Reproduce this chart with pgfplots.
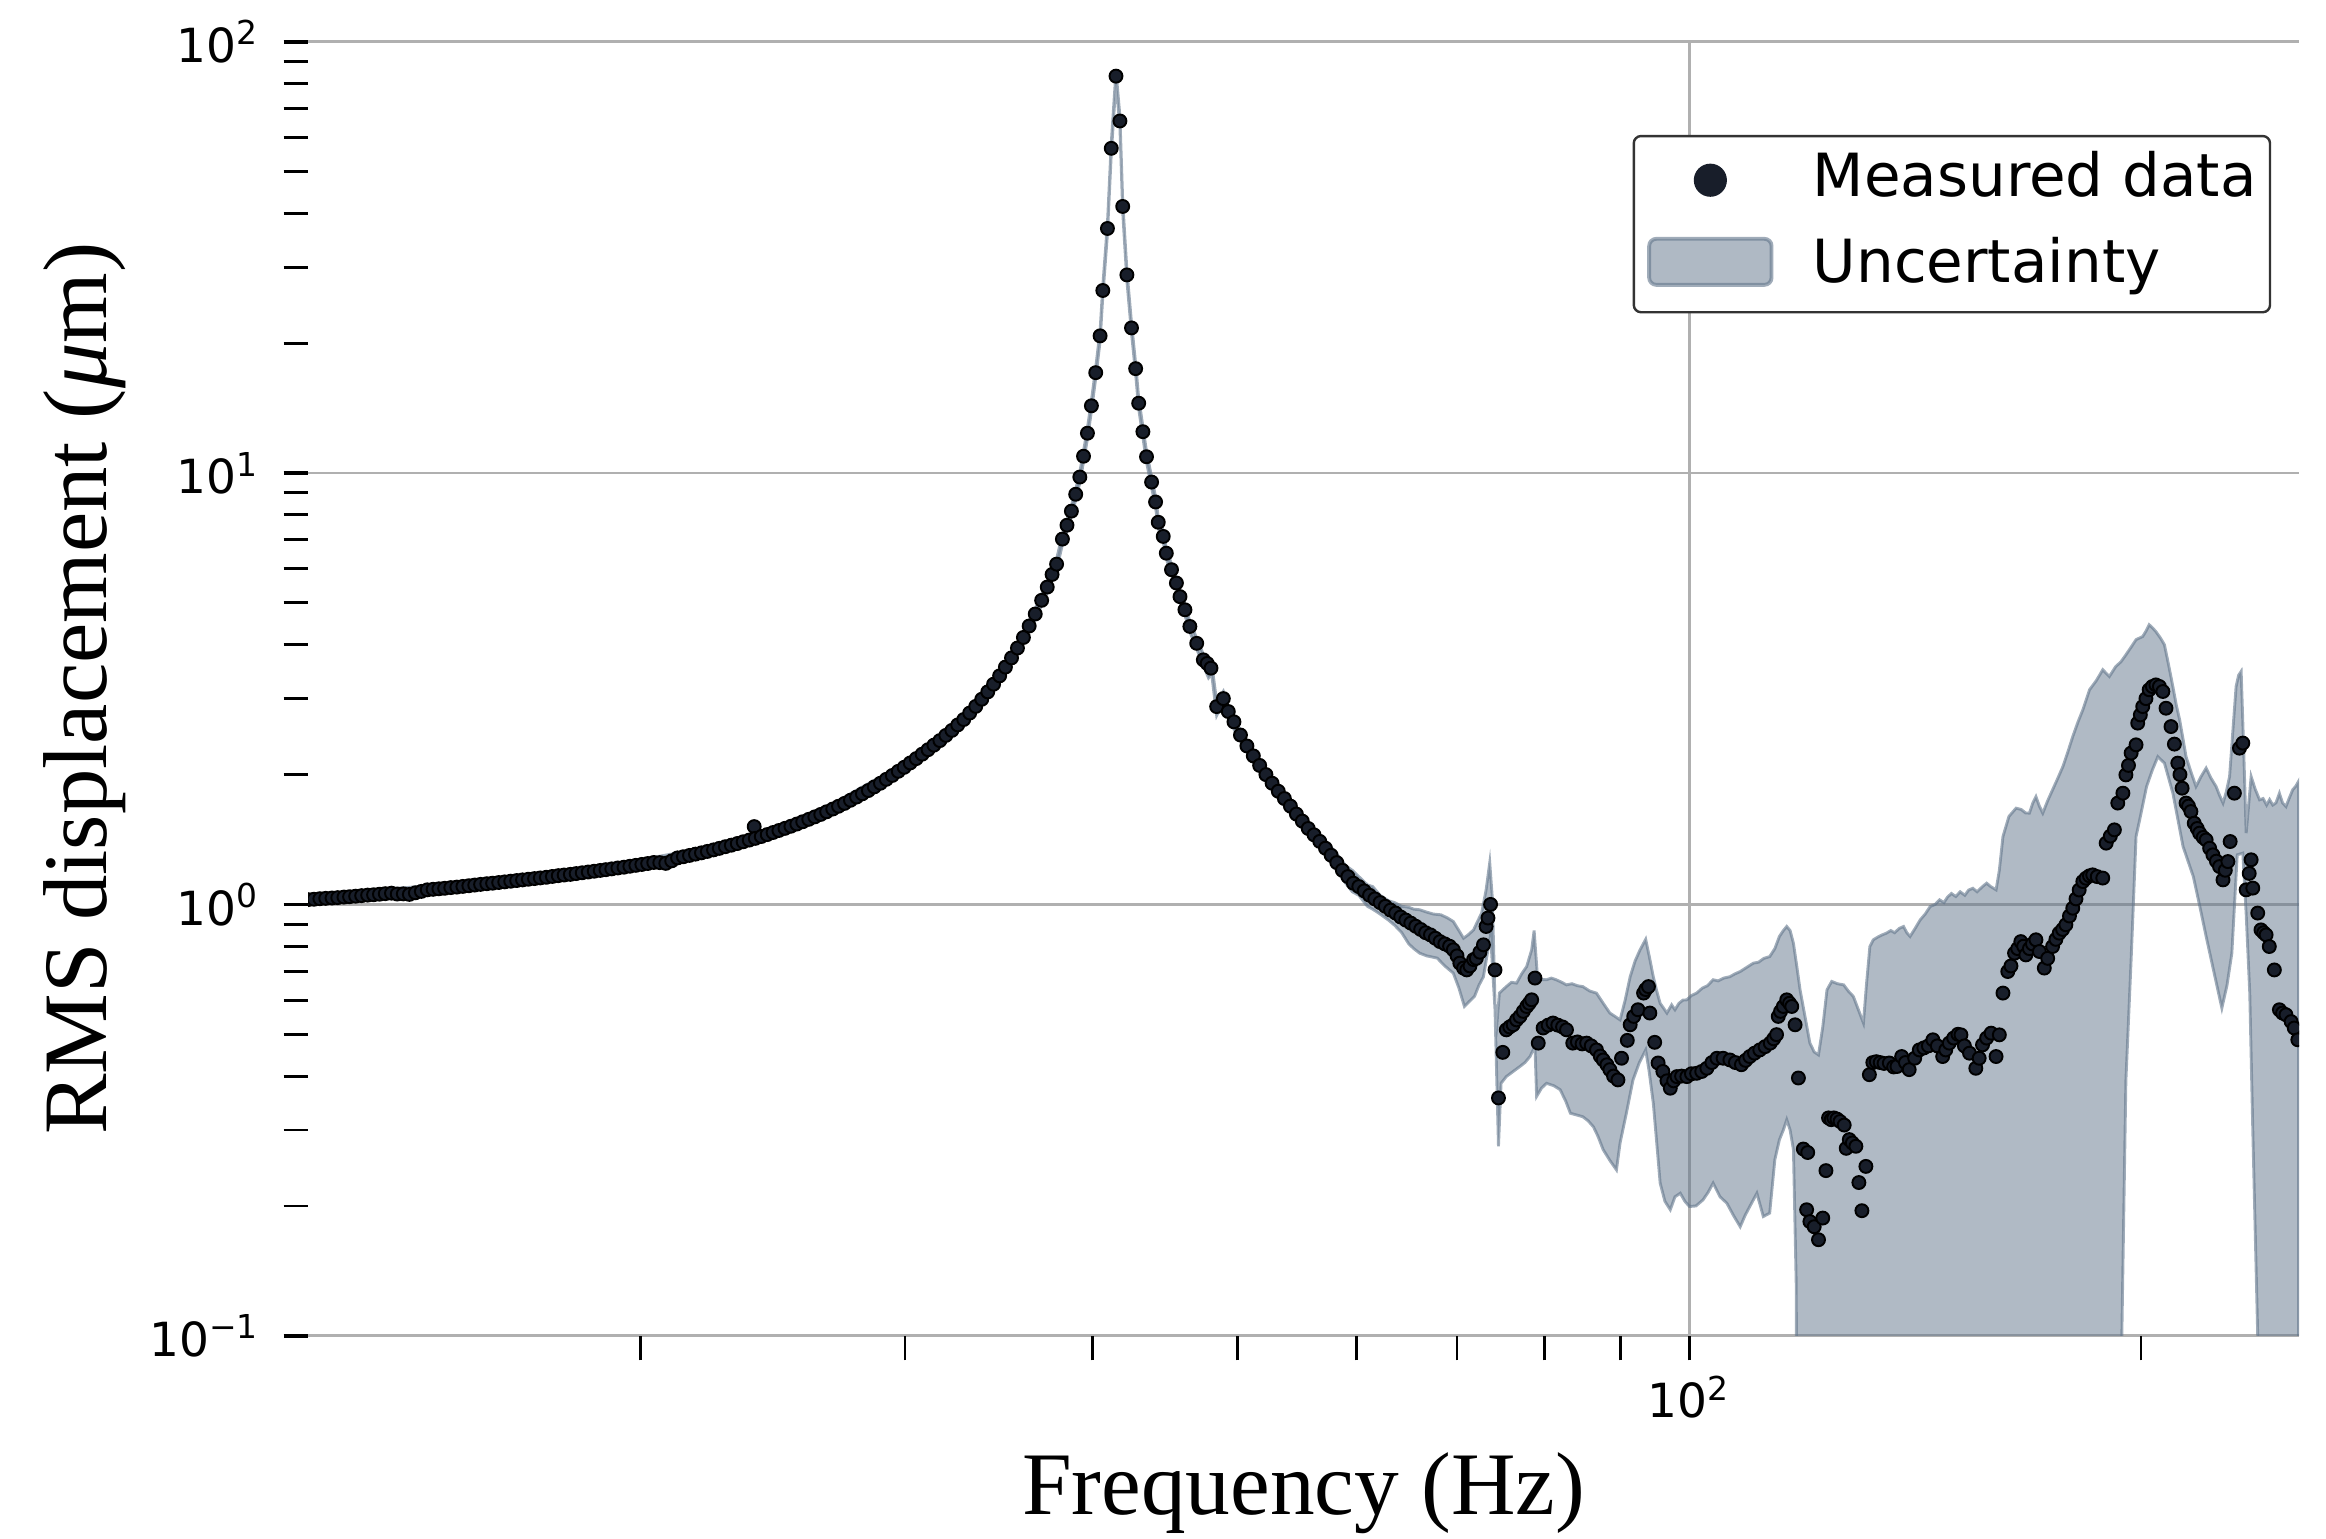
\documentclass[border=0pt]{standalone}
\usepackage{fontspec}
\setmainfont{Liberation Serif}
\newfontfamily\dejavu{DejaVu Sans}
\usepackage{pgfplots}
\pgfplotsset{compat=1.18}
\definecolor{dotc}{RGB}{24,30,42}
\definecolor{bandc}{RGB}{97,117,139}
\definecolor{gridc}{RGB}{176,176,176}
\begin{document}
\begin{tikzpicture}
\begin{axis}[
  at={(0pt,0pt)}, anchor=south west,
  scale only axis, width=414.8pt, height=269.6pt,
  xmode=log, ymode=log,
  xmin=12, xmax=254.9, ymin=0.1, ymax=100,
  axis line style={draw=none},
  tick pos=left, tick align=outside,
  major tick length=5.1pt, minor tick length=5.1pt,
  major tick style={black, line width=0.8pt},
  minor tick style={black, line width=0.6pt},
  xtick={100}, xticklabels={10\textsuperscript{2}},
  minor xtick={20,30,40,50,60,70,80,90,200},
  ytick={0.1,1,10,100},
  yticklabels={10\textsuperscript{−1},10\textsuperscript{0},10\textsuperscript{1},10\textsuperscript{2}},
  minor ytick={0.2,0.3,0.4,0.5,0.6,0.7,0.8,0.9,2,3,4,5,6,7,8,9,20,30,40,50,60,70,80,90},
  grid=major, major grid style={gridc, line width=0.6pt},
  ticklabel style={font=\dejavu\fontsize{9.8}{11}\selectfont, inner sep=0pt},
  xticklabel shift=3.1pt, yticklabel shift=4.7pt,
  xlabel={Frequency (Hz)},
  xlabel style={font=\fontsize{18.6}{20}\selectfont, inner sep=0pt, at={([yshift=-37.3pt]axis description cs:0.5,0)}, anchor=base},
  ylabel={RMS displacement (\textit{μ}m)},
  ylabel style={font=\fontsize{18.9}{20}\selectfont, inner sep=0pt, at={([xshift=-41.9pt]axis description cs:0,0.5)}, anchor=base},
  clip marker paths=true,
  legend cell align=left,
  legend style={at={(0.986,0.928)}, anchor=north east,
    draw=black!80, line width=0.5pt, rounded corners=1.5pt, fill=white,
    font=\dejavu\fontsize{12.4}{14}\selectfont,
    inner xsep=2.8pt, inner ysep=3.3pt, row sep=5.5pt,
    cells={anchor=west},
    nodes={inner sep=0pt, text height=9.3pt, text depth=2.9pt},
    /tikz/every odd column/.append style={column sep=8.2pt}},
]
\addplot[fill=bandc, fill opacity=0.5, draw=bandc, draw opacity=0.6, line width=0.6pt, forget plot] coordinates {
(12.0,1.05)(13.0,1.075)(14.0,1.095)(15.0,1.12)(16.0,1.145)(17.0,1.175)(18.0,1.205)(19.0,1.235)(20.0,1.27)(21.0,1.31)(22.0,1.35)(23.0,1.41)(24.0,1.47)(25.0,1.545)(26.0,1.63)(27.0,1.73)(28.0,1.86)(29.0,1.99)(30.0,2.14)(31.0,2.33)(32.0,2.53)(33.0,2.8)(34.0,3.15)(35.0,3.6)(36.0,4.3)(36.64,4.85)(37.32,5.6)(37.86,6.32)(38.20,7.22)(38.47,7.78)(38.73,8.39)(38.99,9.18)(39.24,10.06)(39.46,11.25)(39.70,12.72)(39.94,14.72)(40.20,17.57)(40.47,21.4)(40.64,27.2)(40.93,37.9)(41.17,58.2)(41.47,85.5)(41.72,67.3)(41.90,42.7)(42.17,29.6)(42.47,22.3)(42.74,17.95)(42.94,14.93)(43.22,12.82)(43.46,11.22)(43.80,9.8)(44.07,8.81)(44.25,7.9)(44.59,7.33)(44.80,6.7)(45.16,6.14)(45.50,5.72)(45.75,5.32)(46.10,4.96)(46.45,4.53)(46.94,4.14)(47.42,3.8)(47.80,3.72)(48.03,3.63)(48.40,2.95)(48.90,3.12)(49.40,2.82)(50.0,2.6)(51.0,2.3)(52.0,2.1)(53.0,1.91)(54.0,1.765)(55.0,1.63)(56.0,1.52)(57.0,1.42)(58.0,1.33)(59.0,1.23)(59.6,1.2)(60.2,1.16)(61.0,1.11)(61.5,1.10)(62.2,1.05)(63.0,1.02)(63.6,1.01)(64.3,0.99)(65.0,0.985)(65.5,0.975)(66.1,0.972)(66.8,0.96)(67.5,0.95)(68.3,0.946)(69.0,0.93)(69.6,0.913)(70.2,0.87)(70.7,0.835)(71.2,0.85)(71.8,0.873)(72.2,0.91)(72.7,0.955)(73.2,1.081)(73.6,1.25)(73.9,1.03)(74.3,0.494)(74.7,0.623)(75.5,0.645)(76.1,0.66)(76.7,0.657)(77.3,0.69)(77.9,0.718)(78.5,0.785)(78.8,0.87)(79.2,0.68)(79.7,0.67)(80.3,0.669)(80.9,0.675)(81.5,0.669)(82.2,0.66)(82.8,0.651)(83.5,0.655)(84.2,0.648)(84.9,0.645)(85.8,0.63)(86.7,0.623)(87.6,0.59)(88.5,0.56)(89.2,0.55)(89.9,0.54)(90.6,0.6)(91.3,0.68)(92.0,0.74)(92.7,0.785)(93.5,0.83)(94.0,0.76)(94.6,0.68)(95.1,0.63)(95.6,0.59)(96.1,0.575)(96.6,0.56)(97.3,0.585)(97.8,0.57)(98.4,0.59)(99.0,0.6)(99.6,0.601)(100.3,0.615)(101.1,0.623)(102.0,0.64)(102.8,0.648)(103.7,0.669)(104.5,0.665)(105.4,0.675)(106.4,0.68)(107.2,0.69)(108.1,0.699)(109.2,0.715)(110.3,0.731)(111.2,0.735)(112.1,0.75)(113.1,0.757)(114.0,0.79)(114.8,0.843)(115.5,0.87)(116.1,0.889)(116.7,0.87)(117.3,0.813)(117.9,0.72)(118.5,0.634)(119.4,0.55)(120.3,0.477)(121.1,0.455)(121.9,0.448)(122.7,0.52)(123.5,0.634)(124.4,0.663)(125.5,0.655)(126.7,0.651)(127.6,0.63)(128.6,0.612)(129.6,0.57)(130.6,0.531)(131.2,0.65)(131.9,0.799)(132.6,0.828)(133.5,0.84)(134.4,0.85)(135.3,0.858)(136.2,0.87)(137.0,0.86)(138.0,0.88)(138.9,0.889)(139.6,0.86)(140.3,0.843)(141.4,0.88)(142.5,0.921)(143.6,0.95)(144.7,0.989)(145.8,1.0)(146.8,1.025)(147.8,1.01)(148.6,1.04)(149.5,1.06)(150.5,1.043)(151.5,1.07)(152.6,1.05)(153.5,1.08)(154.5,1.09)(155.5,1.07)(156.8,1.10)(157.8,1.12)(158.8,1.10)(160.1,1.081)(160.9,1.2)(161.8,1.437)(163.3,1.6)(165.1,1.672)(166.4,1.66)(167.5,1.63)(168.5,1.628)(169.4,1.72)(170.2,1.778)(171.1,1.69)(172.0,1.628)(173.3,1.74)(174.6,1.844)(176.0,1.96)(177.4,2.088)(178.7,2.25)(180.1,2.45)(181.5,2.64)(182.9,2.825)(184.8,3.145)(186.7,3.3)(188.6,3.5)(190.5,3.376)(192.4,3.56)(193.9,3.65)(195.4,3.79)(197.0,3.95)(198.5,4.11)(200.5,4.18)(201.5,4.3)(202.5,4.45)(203.5,4.38)(204.6,4.29)(206.0,4.15)(207.3,4.0)(208.6,3.6)(210.0,3.2)(211.1,2.9)(212.2,2.68)(213.3,2.42)(214.3,2.2)(216.0,2.02)(217.6,1.877)(219.3,1.98)(221.0,2.07)(222.7,1.96)(224.4,1.877)(225.6,1.79)(226.8,1.718)(227.9,1.82)(229.1,1.98)(230.2,2.5)(231.4,3.2)(232.3,3.4)(233.2,3.47)(234.1,2.3)(235.0,1.463)(235.9,1.7)(236.8,1.98)(238.3,1.85)(239.9,1.748)(241.2,1.76)(242.5,1.70)(243.6,1.75)(244.8,1.70)(246.0,1.72)(247.3,1.81)(248.5,1.72)(249.8,1.686)(251.0,1.76)(252.4,1.844)(253.6,1.88)(254.7,1.93)
(254.7,0.01)(240.0,0.01)(239.2,0.1)(237.4,0.3)(236.3,0.623)(235.0,0.95)(233.8,1.315)(231.8,1.303)(229.9,0.771)(228.2,0.65)(226.4,0.575)(223.8,0.69)(221.0,0.843)(219.0,0.98)(216.7,1.16)(213.3,1.363)(210.0,1.811)(207.3,2.126)(205.2,2.2)(203.5,2.05)(201.7,1.877)(199.6,1.57)(198.5,1.437)(197.0,0.744)(195.4,0.39)(194.2,0.1)(193.8,0.01)(118.1,0.01)(117.8,0.132)(117.3,0.27)(116.7,0.30)(116.1,0.317)(115.5,0.30)(114.8,0.2847)(114.0,0.256)(113.1,0.1925)(112.0,0.189)(111.5,0.2)(110.9,0.214)(109.7,0.1994)(108.9,0.19)(108.1,0.179)(107.0,0.19)(105.9,0.203)(104.8,0.21)(103.7,0.226)(102.9,0.215)(102.1,0.2066)(101.0,0.2)(100.0,0.1994)(99.3,0.205)(98.6,0.214)(97.8,0.21)(97.1,0.196)(96.3,0.205)(95.6,0.226)(95.1,0.28)(94.6,0.346)(94.0,0.41)(93.5,0.46)(92.6,0.43)(91.7,0.392)(90.8,0.33)(89.9,0.28)(89.4,0.2425)(88.5,0.255)(87.6,0.27)(86.9,0.29)(86.3,0.305)(85.6,0.315)(84.9,0.322)(84.1,0.325)(83.3,0.328)(82.7,0.35)(82.0,0.372)(81.2,0.38)(80.3,0.385)(79.7,0.375)(79.1,0.359)(78.9,0.469)(78.3,0.444)(77.7,0.43)(77.1,0.421)(76.3,0.41)(75.5,0.399)(74.9,0.385)(74.6,0.275)(74.2,0.57)(73.7,0.85)(73.4,0.785)(72.9,0.68)(72.4,0.65)(71.9,0.612)(71.3,0.595)(70.8,0.58)(70.2,0.64)(69.6,0.693)(68.7,0.72)(67.9,0.751)(66.8,0.76)(66.1,0.771)(65.5,0.79)(65.0,0.81)(64.3,0.86)(63.6,0.895)(63.0,0.92)(62.2,0.95)(61.5,0.975)(61.0,0.99)(60.2,1.05)(59.6,1.07)(59.0,1.12)(58.0,1.22)(57.0,1.32)(56.0,1.42)(55.0,1.52)(54.0,1.655)(53.0,1.79)(52.0,1.97)(51.0,2.17)(50.0,2.45)(49.40,2.65)(48.90,2.94)(48.40,2.74)(48.03,3.42)(47.80,3.35)(47.42,3.58)(46.94,3.91)(46.45,4.28)(46.10,4.68)(45.75,5.02)(45.50,5.4)(45.16,5.8)(44.80,6.33)(44.59,6.92)(44.25,7.46)(44.07,8.32)(43.80,9.25)(43.46,10.6)(43.22,12.1)(42.94,14.1)(42.74,16.95)(42.47,21.1)(42.17,27.9)(41.90,40.3)(41.72,63.5)(41.47,80.7)(41.17,54.9)(40.93,35.8)(40.64,25.7)(40.47,20.2)(40.20,16.6)(39.94,13.9)(39.70,12.0)(39.46,10.62)(39.24,9.5)(38.99,8.67)(38.73,7.92)(38.47,7.35)(38.20,6.83)(37.86,5.97)(37.32,5.28)(36.64,4.58)(36.0,4.1)(35.0,3.43)(34.0,3.0)(33.0,2.67)(32.0,2.41)(31.0,2.22)(30.0,2.04)(29.0,1.89)(28.0,1.765)(27.0,1.645)(26.0,1.55)(25.0,1.47)(24.0,1.40)(23.0,1.34)(22.0,1.29)(21.0,1.245)(20.0,1.21)(19.0,1.175)(18.0,1.145)(17.0,1.12)(16.0,1.095)(15.0,1.07)(14.0,1.045)(13.0,1.025)(12.0,1.0)
} -- cycle;
\addplot[only marks, mark=*, mark size=1.35pt, mark options={draw=none, fill=dotc}, forget plot] coordinates {
(12.00,1.026)(12.11,1.028)(12.22,1.031)(12.33,1.033)(12.45,1.035)(12.56,1.037)(12.68,1.040)(12.79,1.042)(12.91,1.045)(13.03,1.048)(13.15,1.051)(13.27,1.053)(13.39,1.056)(13.51,1.059)(13.64,1.062)(13.76,1.057)(13.89,1.058)(14.02,1.055)(14.15,1.064)(14.28,1.072)(14.41,1.081)(14.54,1.084)(14.67,1.087)(14.80,1.090)(14.94,1.094)(15.08,1.097)(15.22,1.101)(15.36,1.105)(15.50,1.109)(15.64,1.113)(15.79,1.117)(15.93,1.120)(16.08,1.124)(16.23,1.128)(16.38,1.132)(16.53,1.136)(16.68,1.140)(16.83,1.144)(16.99,1.148)(17.14,1.152)(17.30,1.156)(17.46,1.161)(17.62,1.166)(17.78,1.170)(17.95,1.174)(18.11,1.179)(18.28,1.184)(18.45,1.189)(18.62,1.194)(18.79,1.199)(18.96,1.204)(19.13,1.209)(19.31,1.215)(19.49,1.220)(19.67,1.226)(19.85,1.232)(20.03,1.238)(20.21,1.244)(20.40,1.251)(20.59,1.250)(20.78,1.245)(20.97,1.262)(21.16,1.282)(21.35,1.290)(21.55,1.299)(21.75,1.308)(21.95,1.317)(22.15,1.327)(22.36,1.338)(22.56,1.349)(22.77,1.361)(22.98,1.372)(23.19,1.384)(23.40,1.397)(23.62,1.410)(23.80,1.515)(23.84,1.423)(24.06,1.437)(24.28,1.452)(24.50,1.468)(24.72,1.484)(24.95,1.501)(25.18,1.518)(25.41,1.536)(25.64,1.555)(25.88,1.575)(26.12,1.596)(26.36,1.617)(26.60,1.640)(26.85,1.664)(27.09,1.689)(27.34,1.715)(27.59,1.744)(27.85,1.774)(28.10,1.805)(28.36,1.837)(28.62,1.873)(28.89,1.910)(29.15,1.950)(29.42,1.991)(29.69,2.035)(29.96,2.079)(30.24,2.128)(30.52,2.178)(30.80,2.230)(31.08,2.284)(31.36,2.340)(31.65,2.398)(31.94,2.465)(32.24,2.532)(32.53,2.607)(32.83,2.683)(33.13,2.778)(33.44,2.878)(33.75,2.99)(34.06,3.110)(34.37,3.24)(34.69,3.388)(35.00,3.55)(35.33,3.729)(35.65,3.93)(35.98,4.158)(36.30,4.42)(36.64,4.712)(37.00,5.07)(37.32,5.441)(37.60,5.82)
(37.86,6.15)(38.20,7.03)(38.47,7.57)(38.73,8.16)(38.99,8.93)(39.24,9.79)(39.46,10.94)(39.70,12.37)(39.94,14.32)(40.20,17.09)(40.47,20.8)(40.64,26.5)(40.93,36.9)(41.17,56.6)(41.47,83.2)(41.72,65.5)(41.90,41.5)(42.17,28.8)(42.47,21.7)(42.74,17.46)(42.94,14.52)(43.22,12.47)(43.46,10.91)(43.80,9.53)(44.07,8.57)(44.25,7.69)(44.59,7.13)(44.80,6.52)(45.16,5.97)(45.50,5.56)(45.75,5.17)(46.10,4.82)(46.45,4.41)(46.94,4.03)(47.42,3.69)(47.70,3.62)(47.98,3.53)(48.40,2.875)(48.90,3.0)(49.27,2.80)(49.70,2.65)
(50.2,2.47)(50.7,2.33)(51.2,2.21)(51.7,2.10)(52.2,2.00)(52.7,1.91)(53.2,1.83)(53.7,1.76)(54.2,1.69)(54.7,1.62)(55.2,1.56)(55.7,1.50)(56.2,1.45)(56.7,1.40)(57.2,1.35)(57.7,1.30)(58.2,1.25)(58.7,1.20)(59.2,1.16)(59.7,1.12)(60.2,1.10)(60.7,1.075)(61.2,1.05)(61.7,1.03)(62.2,1.01)(62.7,0.99)(63.2,0.97)(63.7,0.955)(64.2,0.935)(64.7,0.92)(65.2,0.905)(65.7,0.89)(66.2,0.875)(66.7,0.86)(67.2,0.85)(67.7,0.835)(68.2,0.82)(68.7,0.81)(69.2,0.80)(69.6,0.785)(70.0,0.76)(70.3,0.731)(70.7,0.712)(71.05,0.705)(71.4,0.72)(71.8,0.745)(72.1,0.75)(72.5,0.775)(72.9,0.806)(73.2,0.889)(73.4,0.93)(73.7,1.0)(74.2,0.705)(74.6,0.356)
(75.1,0.454)(75.5,0.512)(75.9,0.52)(76.3,0.526)(76.7,0.54)(77.1,0.55)(77.5,0.565)(77.9,0.58)(78.2,0.59)(78.5,0.601)(78.9,0.675)(79.3,0.477)(79.9,0.517)(80.5,0.525)(81.1,0.531)(81.7,0.525)(82.3,0.52)(82.8,0.512)(83.6,0.477)(84.2,0.48)(84.8,0.475)(85.4,0.477)(86.0,0.47)(86.7,0.46)(87.2,0.445)(87.6,0.436)(88.1,0.425)(88.5,0.414)(89.0,0.40)(89.6,0.392)(90.1,0.44)(90.9,0.484)(91.3,0.526)(91.8,0.55)(92.4,0.57)(93.2,0.623)(93.5,0.635)(93.9,0.645)(94.1,0.56)(94.8,0.479)(95.3,0.429)(96.0,0.41)(96.6,0.39)(97.1,0.375)(97.6,0.39)(98.1,0.399)(98.8,0.40)(99.6,0.399)(100.3,0.405)(101.1,0.406)(101.9,0.41)(102.7,0.417)(103.5,0.43)(104.3,0.44)(105.3,0.44)(106.4,0.436)(107.3,0.43)(108.3,0.425)(109.0,0.435)(109.7,0.444)(110.5,0.452)(111.4,0.46)(112.3,0.468)(113.2,0.477)(113.8,0.488)(114.3,0.499)(114.6,0.55)(115.0,0.565)(115.5,0.58)(116.1,0.601)(116.6,0.59)(117.0,0.58)(117.6,0.526)(118.2,0.396)(119.1,0.271)(119.7,0.196)(119.9,0.266)(120.3,0.184)(121.1,0.179)(121.9,0.167)(122.7,0.1875)(123.3,0.2415)(123.8,0.32)(124.3,0.317)(124.8,0.32)(125.4,0.318)(126.0,0.314)(126.8,0.308)(127.2,0.272)(127.8,0.285)(128.4,0.28)(129.1,0.275)(129.7,0.2266)(130.3,0.195)(131.1,0.247)(131.8,0.403)(132.5,0.43)(133.2,0.432)(134.0,0.43)(134.8,0.428)(135.9,0.429)(136.8,0.42)(137.5,0.421)(138.5,0.444)(139.3,0.43)(140.1,0.414)(141.3,0.44)(142.3,0.46)(143.3,0.465)(144.3,0.47)(145.3,0.4855)(146.3,0.47)(147.5,0.444)(148.2,0.46)(149.0,0.477)(150.0,0.49)(151.0,0.50)(151.7,0.4985)(152.5,0.47)(153.7,0.452)(155.2,0.417)(156.0,0.44)(156.8,0.4725)(157.8,0.49)(158.9,0.503)(160.1,0.444)(160.9,0.4985)(161.8,0.623)(163.0,0.699)(163.8,0.72)(164.7,0.771)(165.5,0.79)(166.3,0.82)(167.0,0.80)(167.6,0.764)(168.5,0.79)(169.3,0.81)(170.2,0.828)(171.1,0.778)(172.4,0.712)(173.3,0.75)(174.6,0.799)(175.5,0.83)(176.4,0.858)(177.3,0.875)(178.2,0.897)(179.2,0.94)(180.1,0.98)(181.0,1.03)(181.9,1.08)(182.9,1.13)(183.8,1.15)(184.8,1.165)(185.7,1.171)(187.0,1.16)(188.6,1.151)(189.6,1.387)(190.8,1.44)(192.0,1.489)(193.0,1.718)(194.5,1.811)(195.4,1.997)(196.2,2.10)(197.0,2.243)(198.5,2.344)(199.0,2.632)(199.8,2.75)(200.5,2.875)(201.5,3.0)(202.5,3.145)(203.5,3.2)(204.6,3.228)(205.7,3.2)(206.8,3.116)(207.8,2.85)(209.4,2.584)(210.5,2.353)(211.6,2.126)(212.3,2.0)(213.0,1.86)(214.3,1.718)(215.1,1.69)(215.9,1.642)(217.0,1.543)(218.0,1.50)(218.8,1.463)(220.0,1.43)(221.0,1.411)(222.2,1.35)(223.3,1.303)(224.5,1.26)(225.6,1.224)(226.8,1.14)(227.6,1.20)(228.5,1.257)(229.3,1.399)(230.8,1.811)(232.6,2.303)(233.8,2.366)(235.0,1.081)(236.1,1.18)(236.8,1.269)(237.4,1.091)(239.2,0.955)(240.4,0.873)(241.4,0.86)(242.3,0.85)(243.5,0.799)(245.4,0.705)(247.3,0.57)(248.5,0.56)(249.8,0.555)(251.8,0.535)(253.0,0.517)(254.4,0.4855)
};
\addlegendimage{legend image code/.code={\fill[dotc] (12.75pt,0.2pt) circle (3.2pt);}}
\addlegendentry{Measured data}
\addlegendimage{legend image code/.code={\filldraw[fill=bandc, fill opacity=0.5, draw=bandc, draw opacity=0.6, line width=0.8pt] (0pt,-3.7pt) rectangle (25.5pt,5.9pt);}}
\addlegendentry{Uncertainty}
\end{axis}
\path (-64.17pt,-42.3pt) rectangle (420.41pt,278.29pt);
\end{tikzpicture}
\end{document}
